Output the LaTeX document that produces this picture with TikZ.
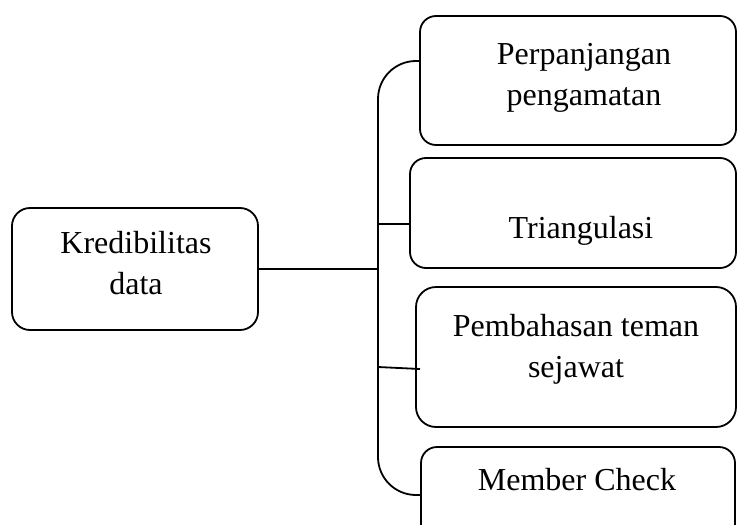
\documentclass[tikz,border=0pt]{standalone}
\usepackage{fontspec}
\setmainfont{Liberation Serif}
\usetikzlibrary{calc}
\begin{document}
\begin{tikzpicture}[x=1pt,y=-1pt, line width=1.8pt,
  box/.style={draw, rounded corners=#1, inner sep=0pt, outer sep=0pt},
  lbl/.style={font=\fontsize{32}{41}\selectfont, align=center, inner sep=0pt}]
\useasboundingbox (0,0) rectangle (737,525);
% boxes
\node[box=18, minimum width=246pt, minimum height=122pt] (k) at (135,269) {};
\node[box=16, minimum width=316pt, minimum height=129pt] (b1) at (578,80.5) {};
\node[box=16, minimum width=326pt, minimum height=110pt] (b2) at (573,213) {};
\node[box=20, minimum width=320pt, minimum height=140pt] (b3) at (576,357) {};
\node[box=16, minimum width=314pt, minimum height=93pt] (b4) at (578,493.5) {};
% texts
\node[lbl] (t0) at (136,263) {Kredibilitas\\data};
\node[lbl] (t1) at (584,78) {Perpanjangan\\pengamatan};
\node[lbl] (t2) at (581,231) {Triangulasi};
\node[lbl] (t3) at (576,349) {Pembahasan teman\\sejawat};
\node[lbl] (t4) at (577,480) {Member Check};
% spine
\coordinate (sp) at (378,269);
\coordinate (top) at (b1.west |- 0,61);
\coordinate (bot) at (b4.west |- 0,495);
\coordinate (c2) at (b2.west |- 0,224);
\coordinate (c3) at (420,369);
\draw[rounded corners=38] (top) -| (sp) |- (bot);
\draw (k.east) -- (k.east -| sp);
\draw (sp |- c2) -- (c2);
\draw (sp |- 0,367) -- (c3);
\end{tikzpicture}
\end{document}
